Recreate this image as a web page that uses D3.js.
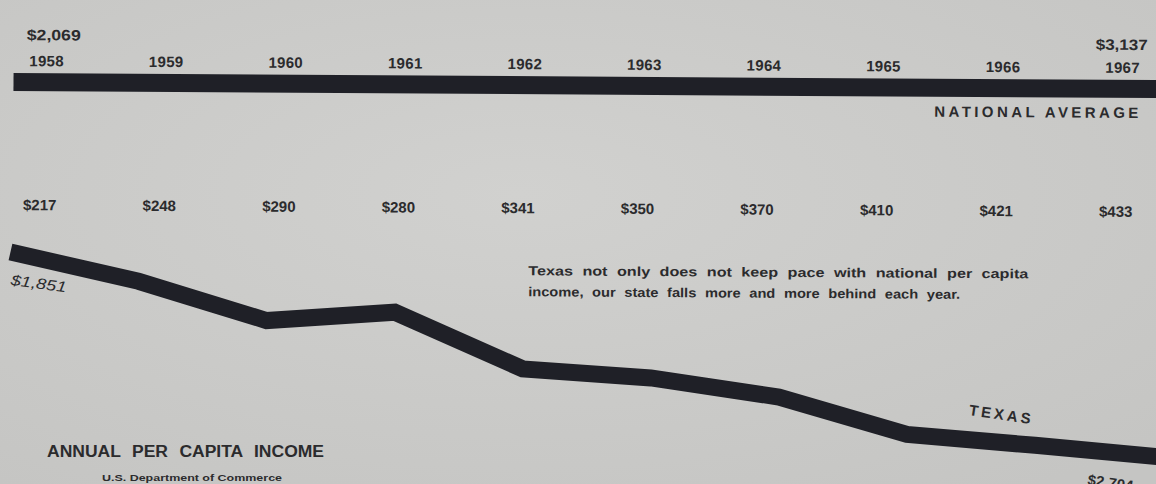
<!DOCTYPE html>
<html>
<head>
<meta charset="utf-8">
<script src="https://cdn.jsdelivr.net/npm/d3@7"></script>
<style>
  html, body { margin: 0; padding: 0; background: #cdcdcb; }
  svg { display: block; }
  text { font-family: "Liberation Sans", Arial, sans-serif; fill: #2b2b2d; font-weight: bold; }
</style>
</head>
<body>
<div id="chart"></div>
<script>
const years = [1958, 1959, 1960, 1961, 1962, 1963, 1964, 1965, 1966, 1967];
const gaps = [217, 248, 290, 280, 341, 350, 370, 410, 421, 433];
const nationalEnds = ["$2,069", "$3,137"];
const texasEnds = ["$1,851", "$2,704"];
const note = [
  "Texas not only does not keep pace with national per capita",
  "income, our state falls more and more behind each year."
];

const width = 1156, height = 484;
const ink = "#1f2027";

const svg = d3.select("#chart").append("svg")
  .attr("width", width)
  .attr("height", height);

// paper tone
const grad = svg.append("defs").append("radialGradient").attr("id", "paper")
  .attr("cx", "45%").attr("cy", "40%").attr("r", "75%");
grad.append("stop").attr("offset", "0%").attr("stop-color", "#d1d1cf");
grad.append("stop").attr("offset", "100%").attr("stop-color", "#c5c5c3");
svg.append("rect").attr("width", width).attr("height", height).attr("fill", "url(#paper)");

// the printed page sits a touch crooked in the photo
const g = svg.append("g").attr("transform", "rotate(0.35, 0, 0)");

const x = d3.scalePoint().domain(years).range([47, 1123]);
const xLine = d3.scalePoint().domain(years).range([12, 1166]);
const y = d3.scaleLinear().domain([217, 433]).range([252, 450]);

// year labels
g.selectAll(".year")
  .data(years)
  .enter()
  .append("text")
  .attr("class", "year")
  .attr("x", d => x(d))
  .attr("y", 66)
  .attr("text-anchor", "middle")
  .style("font-size", "15px")
  .style("letter-spacing", "0.3px")
  .text(d => d);

// national ends
g.append("text").attr("x", 27).attr("y", 40)
  .attr("textLength", 54).attr("lengthAdjust", "spacingAndGlyphs")
  .style("font-size", "15px").text(nationalEnds[0]);
g.append("text").attr("x", 1096).attr("y", 43)
  .attr("textLength", 52).attr("lengthAdjust", "spacingAndGlyphs")
  .style("font-size", "15px").text(nationalEnds[1]);

// national average bar
g.append("line")
  .attr("x1", xLine(years[0]) + 2).attr("x2", width + 10)
  .attr("y1", 82).attr("y2", 82)
  .style("stroke", ink)
  .style("stroke-width", "18px");

g.append("text")
  .attr("x", 935).attr("y", 111)
  .attr("textLength", 204).attr("lengthAdjust", "spacing")
  .style("font-size", "15px")
  .text("NATIONAL AVERAGE");

// gap labels
g.selectAll(".gap")
  .data(gaps)
  .enter()
  .append("text")
  .attr("class", "gap")
  .attr("x", (d, i) => x(years[i]) - 6)
  .attr("y", 210)
  .attr("text-anchor", "middle")
  .style("font-size", "15px")
  .text(d => "$" + d);

// texas line
const line = d3.line()
  .x((d, i) => xLine(years[i]))
  .y(d => y(d));

g.append("path")
  .datum(gaps)
  .attr("d", line)
  .style("fill", "none")
  .style("stroke", ink)
  .style("stroke-width", "17px")
  .style("stroke-linejoin", "miter");

g.append("text")
  .attr("transform", "translate(12,285) rotate(7)")
  .attr("textLength", 56).attr("lengthAdjust", "spacingAndGlyphs")
  .style("font-size", "15px")
  .style("font-style", "italic")
  .style("font-weight", "normal")
  .text(texasEnds[0]);

g.append("text")
  .attr("transform", "translate(1090,478) rotate(8)")
  .style("font-size", "15px")
  .text(texasEnds[1]);

g.append("text")
  .attr("transform", "translate(971,409) rotate(8)")
  .attr("textLength", 62).attr("lengthAdjust", "spacing")
  .style("font-size", "15px")
  .text("TEXAS");

// note
g.selectAll(".note")
  .data(note)
  .enter()
  .append("text")
  .attr("class", "note")
  .attr("x", 530)
  .attr("y", (d, i) => 272 + i * 21)
  .style("font-size", "13px")
  .style("word-spacing", "4px")
  .attr("textLength", (d, i) => i === 0 ? 500 : 432)
  .attr("lengthAdjust", "spacingAndGlyphs")
  .text(d => d);

// titles
svg.append("text")
  .attr("x", 47).attr("y", 457)
  .attr("textLength", 277)
  .attr("lengthAdjust", "spacingAndGlyphs")
  .style("font-size", "16px")
  .style("word-spacing", "6px")
  .text("ANNUAL PER CAPITA INCOME");

svg.append("text")
  .attr("x", 102).attr("y", 481)
  .attr("textLength", 180)
  .attr("lengthAdjust", "spacingAndGlyphs")
  .style("font-size", "9.5px")
  .text("U.S. Department of Commerce");
</script>
</body>
</html>
